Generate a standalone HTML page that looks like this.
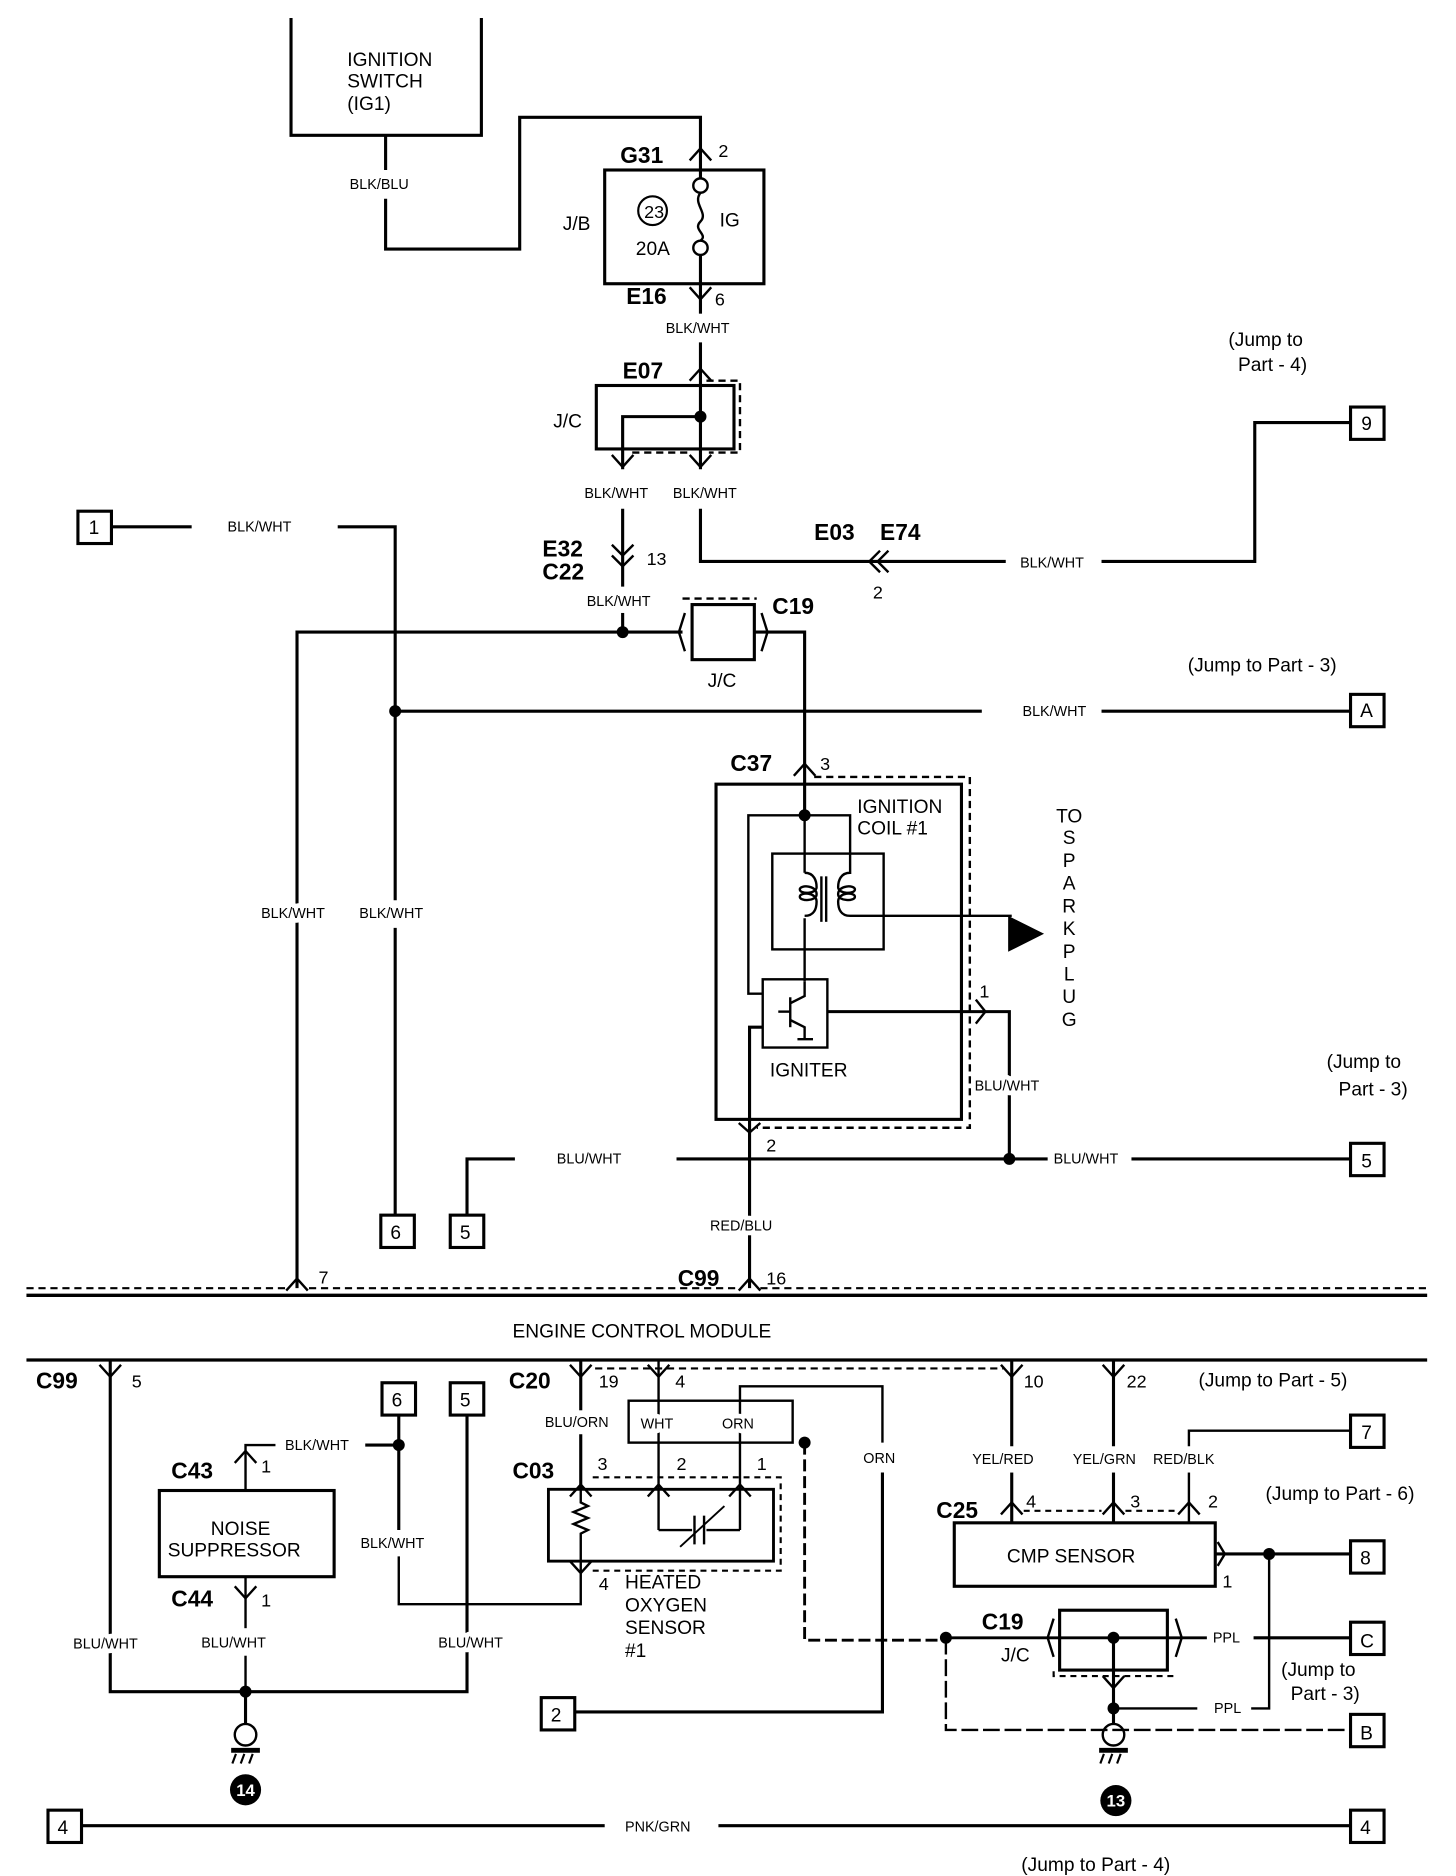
<!DOCTYPE html>
<html><head><meta charset="utf-8"><style>
html,body{margin:0;padding:0;background:#fff;}
svg{display:block}
text{font-family:"Liberation Sans",Arial,sans-serif;fill:#000}
.s{font-size:12px;stroke:#fff;stroke-width:8px;paint-order:stroke;stroke-linejoin:round}
.b{font-size:19px;font-weight:bold}
.m{font-size:16px}
.n{font-size:15px}
</style></head><body>
<svg width="1456" height="1876" viewBox="0 0 1216 1567" xmlns="http://www.w3.org/2000/svg">
<rect width="1216" height="1567" fill="#fff"/>
<g stroke="#000" stroke-width="2.6" fill="none">
<polyline points="243,15 243,113 402,113 402,15"/>
<line x1="322" y1="113" x2="322" y2="142"/>
<polyline points="322,166 322,208 434,208 434,98 585,98 585,149"/>
<polyline points="576,134 585,124 594,134" stroke-width="2"/>
<rect x="505" y="142" width="133" height="95"/>
<circle cx="585" cy="155" r="6" stroke-width="2"/>
<circle cx="585" cy="207" r="6" stroke-width="2"/>
<path d="M585,161 C578,170 592,178 585,185 C578,192 592,196 585,201" stroke-width="2"/>
<circle cx="545" cy="176" r="12" stroke-width="1.8"/>
<line x1="585" y1="213" x2="585" y2="262"/>
<polyline points="576,240 585,250 594,240" stroke-width="2"/>
<line x1="585" y1="286" x2="585" y2="392"/>
<polyline points="576,318 585,308 594,318" stroke-width="2"/>
<rect x="498" y="322" width="115" height="53"/>
<polyline points="585,348 520,348 520,392"/>
<polyline points="590,318 618,318 618,378 592,378" stroke-dasharray="6,4" stroke-width="2"/>
<line x1="528" y1="378" x2="578" y2="378" stroke-dasharray="6,4" stroke-width="2"/>
<polyline points="511,380 520,390 529,380" stroke-width="2"/>
<polyline points="576,380 585,390 594,380" stroke-width="2"/>
<line x1="520" y1="425" x2="520" y2="490"/>
<polyline points="511,455 520,464 529,455" stroke-width="2"/>
<polyline points="511,464 520,473 529,464" stroke-width="2"/>
<line x1="520" y1="512" x2="520" y2="528"/>
<polyline points="585,425 585,469 840,469"/>
<polyline points="735,460 726,469 735,478" stroke-width="2"/>
<polyline points="742,460 733,469 742,478" stroke-width="2"/>
<polyline points="920,469 1048,469 1048,353 1128,353"/>
<rect x="1128" y="340" width="28" height="27"/>
<rect x="65" y="427" width="28" height="27"/>
<line x1="93" y1="440" x2="160" y2="440"/>
<polyline points="282,440 330,440 330,752"/>
<line x1="330" y1="775" x2="330" y2="1015"/>
<rect x="318" y="1015" width="28" height="27"/>
<line x1="330" y1="594" x2="820" y2="594"/>
<line x1="920" y1="594" x2="1128" y2="594"/>
<rect x="1128" y="580" width="28" height="27"/>
<polyline points="248,1076 248,528 570,528"/>
<rect x="578" y="505" width="52" height="46"/>
<polyline points="572,512 567,528 572,544" stroke-width="2"/>
<polyline points="636,512 641,528 636,544" stroke-width="2"/>
<polyline points="570,500 632,500" stroke-dasharray="6,4" stroke-width="2"/>
<polyline points="630,528 672,528 672,681"/>
<polyline points="663,648 672,638 681,648" stroke-width="2"/>
<rect x="598" y="655" width="205" height="280"/>
<polyline points="680,649 810,649 810,942 632,942" stroke-dasharray="6,4" stroke-width="2"/>
<polyline points="672,681 625,681 625,830 637,830" stroke-width="2"/>
<polyline points="672,681 710,681 710,713" stroke-width="2"/>
<rect x="645" y="713" width="93" height="80" stroke-width="2"/>
<line x1="672" y1="681" x2="672" y2="729" stroke-width="2"/>
<path d="M672,729 c8,0 10,7 10,12 c0,6 -14,6 -14,2 c0,-4 14,-4 14,4 c0,6 -14,6 -14,2 c0,-4 14,-4 14,4 c0,6 -2,12 -10,12" stroke-width="2"/>
<line x1="672" y1="767" x2="672" y2="820" stroke-width="2"/>
<line x1="686" y1="732" x2="686" y2="770" stroke-width="2"/>
<line x1="690" y1="732" x2="690" y2="770" stroke-width="2"/>
<path d="M710,713 v16 c-8,0 -10,7 -10,12 c0,6 14,6 14,2 c0,-4 -14,-4 -14,4 c0,6 14,6 14,2 c0,-4 -14,-4 -14,4 c0,6 2,12 10,12 H845" stroke-width="2"/>
<rect x="637" y="818" width="54" height="57" stroke-width="2"/>
<line x1="650" y1="845" x2="660" y2="845" stroke-width="2"/>
<line x1="660" y1="833" x2="660" y2="858" stroke-width="2"/>
<polyline points="660,838 672,832 672,820" stroke-width="2"/>
<polyline points="660,852 672,858 672,868 666,868 679,868" stroke-width="2"/>
<polyline points="691,845 843,845 843,968" stroke-width="2.6"/>
<polyline points="815,835 823,845 815,855" stroke-width="2"/>
<polyline points="637,858 626,858 626,1076"/>
<polyline points="617,938 626,946 635,938" stroke-width="2"/>
<polyline points="430,968 390,968 390,1015"/>
<rect x="376" y="1015" width="28" height="27"/>
<line x1="565" y1="968" x2="875" y2="968"/>
<line x1="945" y1="968" x2="1128" y2="968"/>
<rect x="1128" y="955" width="28" height="27"/>
<line x1="22" y1="1082" x2="1192" y2="1082" stroke-width="2.8"/>
<line x1="22" y1="1076" x2="240" y2="1076" stroke-dasharray="6,4" stroke-width="1.8"/>
<line x1="258" y1="1076" x2="618" y2="1076" stroke-dasharray="6,4" stroke-width="1.8"/>
<line x1="635" y1="1076" x2="1192" y2="1076" stroke-dasharray="6,4" stroke-width="1.8"/>
<polyline points="239,1078 248,1068 257,1078" stroke-width="2"/>
<polyline points="617,1078 626,1068 635,1078" stroke-width="2"/>
<line x1="22" y1="1136" x2="1192" y2="1136" stroke-width="2.8"/>
<polyline points="92,1136 92,1413 390,1413 390,1182"/>
<polyline points="83,1140 92,1150 101,1140" stroke-width="2"/>
<rect x="376" y="1155" width="28" height="27"/>
<rect x="319" y="1155" width="28" height="27"/>
<line x1="205" y1="1413" x2="205" y2="1440"/>
<circle cx="205" cy="1449" r="9" stroke-width="2"/>
<line x1="193" y1="1462" x2="217" y2="1462" stroke-width="4"/>
<path d="M197,1465 l-3,8 M204,1465 l-3,8 M211,1465 l-3,8" stroke-width="1.8"/>
<rect x="133" y="1245" width="146" height="72"/>
<polyline points="205,1245 205,1207 230,1207" stroke-width="2"/>
<polyline points="196,1222 205,1212 214,1222" stroke-width="2"/>
<polyline points="305,1207 333,1207"/>
<line x1="333" y1="1182" x2="333" y2="1278" />
<polyline points="333,1300 333,1340 485,1340 485,1304" stroke-width="2"/>
<line x1="205" y1="1317" x2="205" y2="1360" stroke-width="2"/>
<polyline points="196,1325 205,1335 214,1325" stroke-width="2"/>
<line x1="205" y1="1383" x2="205" y2="1413" stroke-width="2"/>
<line x1="485" y1="1136" x2="485" y2="1178"/>
<line x1="485" y1="1198" x2="485" y2="1245"/>
<polyline points="476,1140 485,1150 494,1140" stroke-width="2"/>
<polyline points="541,1140 550,1150 559,1140" stroke-width="2"/>
<line x1="497" y1="1143" x2="838" y2="1143" stroke-dasharray="6,4" stroke-width="1.8"/>
<line x1="550" y1="1136" x2="550" y2="1278" stroke-width="2"/>
<rect x="525" y="1170" width="137" height="35" stroke-width="2"/>
<polyline points="618,1278 618,1158 737,1158 737,1205" stroke-width="2"/>
<polyline points="737,1230 737,1430 480,1430"/>
<rect x="452" y="1418" width="28" height="27"/>
<polyline points="672,1205 672,1370 790,1370" stroke-dasharray="10,4" stroke-width="2.4"/>
<polyline points="476,1250 485,1240 494,1250" stroke-width="2"/>
<polyline points="541,1250 550,1240 559,1250" stroke-width="2"/>
<polyline points="609,1250 618,1240 627,1250" stroke-width="2"/>
<polyline points="495,1234 652,1234 652,1312 495,1312" stroke-dasharray="5,4" stroke-width="1.8"/>
<rect x="458" y="1244" width="188" height="60" stroke-width="2.4"/>
<path d="M485,1245 v10 l6,3 l-12,5 l12,5 l-12,5 l12,5 l-6,3 v23" stroke-width="2"/>
<polyline points="550,1278 578,1278" stroke-width="2"/>
<polyline points="590,1278 618,1278" stroke-width="2"/>
<line x1="580" y1="1266" x2="580" y2="1290" stroke-width="2"/>
<line x1="588" y1="1266" x2="588" y2="1290" stroke-width="2"/>
<line x1="568" y1="1292" x2="605" y2="1258" stroke-width="1.6"/>
<polyline points="476,1304 485,1314 494,1304" stroke-width="2"/>
<line x1="845" y1="1136" x2="845" y2="1208"/>
<line x1="845" y1="1230" x2="845" y2="1272"/>
<line x1="930" y1="1136" x2="930" y2="1208"/>
<line x1="930" y1="1230" x2="930" y2="1272"/>
<polyline points="836,1140 845,1150 854,1140" stroke-width="2"/>
<polyline points="921,1140 930,1150 939,1140" stroke-width="2"/>
<polyline points="993,1208 993,1195 1128,1195" stroke-width="2"/>
<line x1="993" y1="1230" x2="993" y2="1272" stroke-width="2"/>
<rect x="1128" y="1182" width="28" height="27"/>
<polyline points="836,1265 845,1255 854,1265" stroke-width="2"/>
<polyline points="921,1265 930,1255 939,1265" stroke-width="2"/>
<polyline points="984,1265 993,1255 1002,1265" stroke-width="2"/>
<polyline points="855,1262 920,1262" stroke-dasharray="5,4" stroke-width="1.8"/>
<polyline points="940,1262 984,1262" stroke-dasharray="5,4" stroke-width="1.8"/>
<rect x="797" y="1272" width="218" height="53"/>
<polyline points="1017,1288 1023,1298 1017,1308" stroke-width="2"/>
<line x1="1015" y1="1298" x2="1128" y2="1298"/>
<rect x="1128" y="1287" width="28" height="27"/>
<polyline points="1060,1298 1060,1427 1045,1427" stroke-width="2"/>
<line x1="1000" y1="1427" x2="930" y2="1427" stroke-width="2"/>
<line x1="790" y1="1368" x2="1008" y2="1368" stroke-width="2.4"/>
<line x1="1047" y1="1368" x2="1128" y2="1368"/>
<rect x="1128" y="1355" width="28" height="27"/>
<rect x="885" y="1345" width="90" height="50"/>
<polyline points="880,1352 875,1368 880,1384" stroke-width="2"/>
<polyline points="982,1352 987,1368 982,1384" stroke-width="2"/>
<polyline points="880,1396 880,1400 980,1400 980,1396" stroke-dasharray="5,4" stroke-width="1.8"/>
<line x1="930" y1="1368" x2="930" y2="1440"/>
<polyline points="921,1400 930,1410 939,1400" stroke-width="2"/>
<polyline points="790,1368 790,1445 1128,1445" stroke-dasharray="14,4" stroke-width="2"/>
<rect x="1128" y="1432" width="28" height="27"/>
<circle cx="930" cy="1449" r="9" stroke-width="2"/>
<line x1="918" y1="1462" x2="942" y2="1462" stroke-width="4"/>
<path d="M922,1465 l-3,8 M929,1465 l-3,8 M936,1465 l-3,8" stroke-width="1.8"/>
<rect x="40" y="1512" width="28" height="27"/>
<line x1="68" y1="1525" x2="505" y2="1525"/>
<line x1="600" y1="1525" x2="1128" y2="1525"/>
<rect x="1128" y="1512" width="28" height="27"/>
</g>
<g fill="#000">
<circle cx="585" cy="348" r="5"/>
<circle cx="520" cy="528" r="5"/>
<circle cx="330" cy="594" r="5"/>
<circle cx="672" cy="681" r="5"/>
<circle cx="843" cy="968" r="5"/>
<circle cx="205" cy="1413" r="5"/>
<circle cx="333" cy="1207" r="5"/>
<circle cx="672" cy="1205" r="5"/>
<circle cx="790" cy="1368" r="5"/>
<circle cx="930" cy="1368" r="5"/>
<circle cx="930" cy="1427" r="5"/>
<circle cx="1060" cy="1298" r="5"/>
<polygon points="842,765 872,780 842,795"/>
<circle cx="205" cy="1495" r="13"/>
<circle cx="932" cy="1504" r="13"/>
</g>
<g>
<text class="m" x="290" y="55">IGNITION</text>
<text class="m" x="290" y="73">SWITCH</text>
<text class="m" x="290" y="92">(IG1)</text>
<text class="s" x="292" y="158">BLK/BLU</text>
<text class="b" x="518" y="136">G31</text>
<text class="n" x="600" y="131">2</text>
<text class="n" x="538" y="182">23</text>
<text class="m" x="601" y="189">IG</text>
<text class="m" x="531" y="213">20A</text>
<text class="m" x="470" y="192">J/B</text>
<text class="b" x="523" y="254">E16</text>
<text class="n" x="597" y="255">6</text>
<text class="s" x="556" y="278">BLK/WHT</text>
<text class="b" x="520" y="316">E07</text>
<text class="m" x="462" y="357">J/C</text>
<text class="s" x="488" y="416">BLK/WHT</text>
<text class="s" x="562" y="416">BLK/WHT</text>
<text class="b" x="453" y="465">E32</text>
<text class="b" x="453" y="484">C22</text>
<text class="n" x="540" y="472">13</text>
<text class="s" x="490" y="506">BLK/WHT</text>
<text class="b" x="645" y="513">C19</text>
<text class="m" x="591" y="574">J/C</text>
<text class="b" x="680" y="451">E03</text>
<text class="b" x="735" y="451">E74</text>
<text class="n" x="729" y="500">2</text>
<text class="s" x="852" y="474">BLK/WHT</text>
<text class="m" x="1026" y="289">(Jump to</text>
<text class="m" x="1034" y="310">Part - 4)</text>
<text class="m" x="1137" y="359">9</text>
<text class="s" x="190" y="444">BLK/WHT</text>
<text class="m" x="74" y="446">1</text>
<text class="s" x="854" y="598">BLK/WHT</text>
<text class="m" x="992" y="561">(Jump to Part - 3)</text>
<text class="m" x="1136" y="599">A</text>
<text class="b" x="610" y="644">C37</text>
<text class="n" x="685" y="643">3</text>
<text class="m" x="716" y="679">IGNITION</text>
<text class="m" x="716" y="697">COIL #1</text>
<text class="m" x="643" y="899">IGNITER</text>
<text class="n" x="818" y="833">1</text>
<text class="s" x="814" y="911">BLU/WHT</text>
<text class="n" x="640" y="962">2</text>
<g class="m" text-anchor="middle">
<text x="893" y="687">TO</text><text x="893" y="705">S</text><text x="893" y="724">P</text><text x="893" y="743">A</text><text x="893" y="762">R</text><text x="893" y="781">K</text><text x="893" y="800">P</text><text x="893" y="819">L</text><text x="893" y="838">U</text><text x="893" y="857">G</text>
</g>
<text class="s" x="218" y="767">BLK/WHT</text>
<text class="s" x="300" y="767">BLK/WHT</text>
<text class="m" x="326" y="1035">6</text>
<text class="m" x="384" y="1035">5</text>
<text class="s" x="465" y="972">BLU/WHT</text>
<text class="s" x="880" y="972">BLU/WHT</text>
<text class="m" x="1137" y="975">5</text>
<text class="m" x="1108" y="892">(Jump to</text>
<text class="m" x="1118" y="915">Part - 3)</text>
<text class="s" x="593" y="1028">RED/BLU</text>
<text class="b" x="566" y="1074">C99</text>
<text class="n" x="640" y="1073">16</text>
<text class="n" x="266" y="1072">7</text>
<text class="m" x="428" y="1117">ENGINE CONTROL MODULE</text>
<text class="b" x="30" y="1160">C99</text>
<text class="n" x="110" y="1159">5</text>
<text class="m" x="327" y="1175">6</text>
<text class="m" x="384" y="1175">5</text>
<text class="s" x="238" y="1211">BLK/WHT</text>
<text class="b" x="143" y="1235">C43</text>
<text class="n" x="218" y="1230">1</text>
<text class="m" x="176" y="1282">NOISE</text>
<text class="m" x="140" y="1300">SUPPRESSOR</text>
<text class="b" x="143" y="1342">C44</text>
<text class="n" x="218" y="1342">1</text>
<text class="s" x="301" y="1293">BLK/WHT</text>
<text class="s" x="61" y="1377">BLU/WHT</text>
<text class="s" x="168" y="1376">BLU/WHT</text>
<text class="s" x="366" y="1376">BLU/WHT</text>
<text class="b" x="425" y="1160">C20</text>
<text class="n" x="500" y="1159">19</text>
<text class="n" x="564" y="1159">4</text>
<text class="s" x="455" y="1192">BLU/ORN</text>
<text class="s" x="535" y="1193">WHT</text>
<text class="s" x="603" y="1193">ORN</text>
<text class="s" x="721" y="1222">ORN</text>
<text class="b" x="428" y="1235">C03</text>
<text class="n" x="499" y="1228">3</text>
<text class="n" x="565" y="1228">2</text>
<text class="n" x="632" y="1228">1</text>
<text class="n" x="500" y="1328">4</text>
<text class="m" x="522" y="1327">HEATED</text>
<text class="m" x="522" y="1346">OXYGEN</text>
<text class="m" x="522" y="1365">SENSOR</text>
<text class="m" x="522" y="1384">#1</text>
<text class="m" x="460" y="1438">2</text>
<text class="n" x="855" y="1159">10</text>
<text class="n" x="941" y="1159">22</text>
<text class="m" x="1001" y="1158">(Jump to Part - 5)</text>
<text class="m" x="1137" y="1202">7</text>
<text class="s" x="812" y="1223">YEL/RED</text>
<text class="s" x="896" y="1223">YEL/GRN</text>
<text class="s" x="963" y="1223">RED/BLK</text>
<text class="m" x="1057" y="1253">(Jump to Part - 6)</text>
<text class="b" x="782" y="1268">C25</text>
<text class="n" x="857" y="1259">4</text>
<text class="n" x="944" y="1259">3</text>
<text class="n" x="1009" y="1259">2</text>
<text class="m" x="841" y="1305">CMP SENSOR</text>
<text class="n" x="1021" y="1326">1</text>
<text class="m" x="1136" y="1307">8</text>
<text class="b" x="820" y="1361">C19</text>
<text class="m" x="836" y="1388">J/C</text>
<text class="s" x="1013" y="1372">PPL</text>
<text class="m" x="1136" y="1376">C</text>
<text class="m" x="1070" y="1400">(Jump to</text>
<text class="m" x="1078" y="1420">Part - 3)</text>
<text class="s" x="1014" y="1431">PPL</text>
<text class="m" x="1136" y="1453">B</text>
<text x="205" y="1500" font-size="14" font-weight="bold" text-anchor="middle" style="fill:#fff">14</text>
<text x="932" y="1509" font-size="14" font-weight="bold" text-anchor="middle" style="fill:#fff">13</text>
<text class="m" x="48" y="1532">4</text>
<text class="s" x="522" y="1530">PNK/GRN</text>
<text class="m" x="1136" y="1532">4</text>
<text class="m" x="853" y="1563">(Jump to Part - 4)</text>
</g>
</svg>
</body></html>
